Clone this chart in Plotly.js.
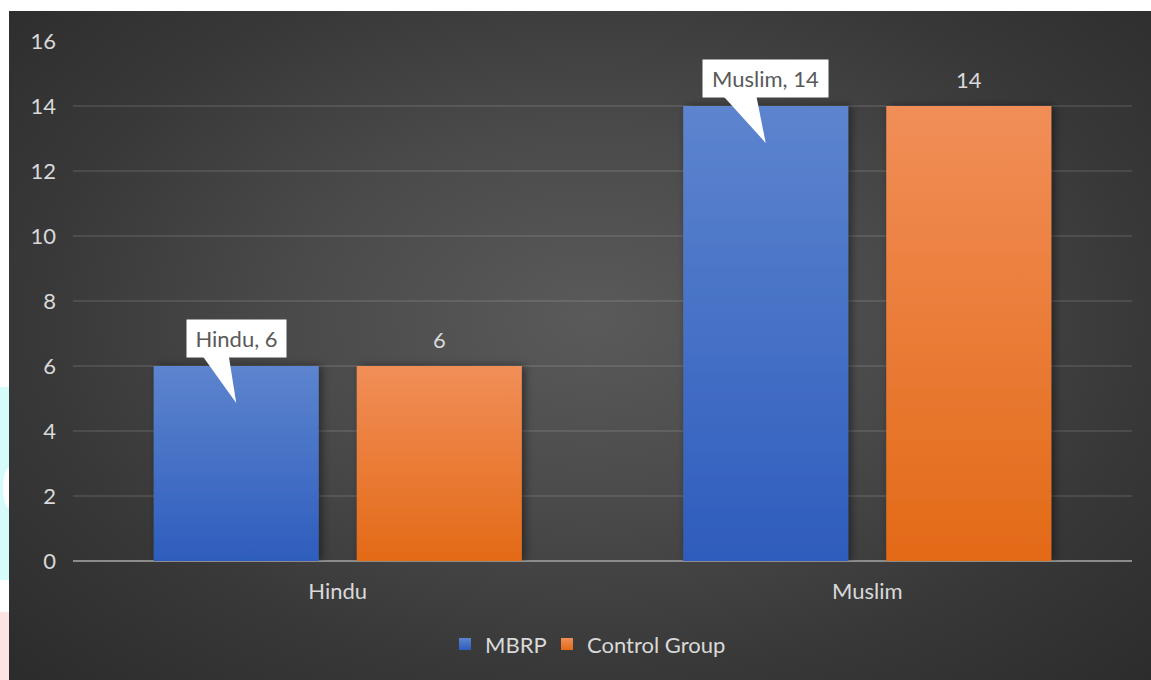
<!DOCTYPE html>
<html>
<head>
<meta charset="utf-8">
<script src="https://cdn.plot.ly/plotly-3.0.1.min.js"></script>
<style>
  html, body { margin: 0; padding: 0; background: #ffffff; width: 1151px; height: 680px; overflow: hidden; }
  #bg { position: absolute; left: 9px; top: 11px; width: 1142px; height: 669px;
        background: radial-gradient(ellipse 75% 82% at 51% 46%, #5a5a5a 0%, #4a4a4a 35%, #383838 65%, #292929 100%); }
  #cyan { position: absolute; left: 0; top: 387px; width: 9px; height: 193px; background: #d6fbfb; }
  #dot { position: absolute; left: 3px; top: 468px; width: 12px; height: 40px; border-radius: 50%; background: #ffffff; }
  #pink { position: absolute; left: 0; top: 612px; width: 9px; height: 68px; background: #fde3e3; }
  #chart { position: absolute; left: 0; top: 0; width: 1151px; height: 680px; }
</style>
</head>
<body>
<div id="cyan"></div>
<div id="dot"></div>
<div id="pink"></div>
<div id="bg"></div>
<div id="chart"></div>
<script>
// ---- data ----
const categories = ['Hindu', 'Muslim'];
const seriesNames = ['MBRP', 'Control Group'];
const mbrpValues = [6, 14];
const controlValues = [6, 14];
const yTickValues = [0, 2, 4, 6, 8, 10, 12, 14, 16];

// ---- style ----
const FONT = 'Lato, "Open Sans", sans-serif';
const TEXT = '#d9d9d9';
const FS = 22;
const BARGAP = 0.233;
const GROUPGAP = 0.187;
const slotOffset = (1 - BARGAP) / 4; // centre of each bar relative to category centre

const traces = [
  { type: 'bar', name: seriesNames[0], x: categories, y: mbrpValues,
    marker: { color: '#4472c4', line: { width: 0 } }, hoverinfo: 'skip' },
  { type: 'bar', name: seriesNames[1], x: categories, y: controlValues,
    marker: { color: '#ed7d31', line: { width: 0 } }, hoverinfo: 'skip' }
];

const annotations = [];
const shapes = [];
categories.forEach((cat, i) => {
  const label = cat + ', ' + mbrpValues[i];
  const boxW = 13 * label.length - 5;
  annotations.push({
    xref: 'x', yref: 'y', x: i - slotOffset, y: mbrpValues[i],
    text: label, showarrow: false, yanchor: 'middle', xanchor: 'center', yshift: 27.5,
    font: { family: FONT, size: FS, color: '#595959' },
    bgcolor: '#ffffff', borderpad: 6, width: boxW - 12, height: 25
  });
  shapes.push({
    type: 'path', xref: 'x', yref: 'y', xsizemode: 'pixel', ysizemode: 'pixel',
    xanchor: i - slotOffset, yanchor: mbrpValues[i],
    path: 'M' + (-0.34 * boxW) + ',10 L' + (-0.075 * boxW) + ',10 L0,-37 Z',
    fillcolor: '#ffffff', line: { width: 0 }, layer: 'above'
  });
  annotations.push({
    xref: 'x', yref: 'y', x: i + slotOffset, y: controlValues[i],
    text: String(controlValues[i]), showarrow: false, yanchor: 'middle', xanchor: 'center', yshift: 27,
    font: { family: FONT, size: FS, color: TEXT }
  });
});

const layout = {
  width: 1151, height: 680,
  paper_bgcolor: 'rgba(0,0,0,0)', plot_bgcolor: 'rgba(0,0,0,0)',
  margin: { l: 73, r: 19, t: 41, b: 119 },
  barmode: 'group', bargap: BARGAP, bargroupgap: GROUPGAP,
  font: { family: FONT, color: TEXT, size: FS },
  xaxis: { type: 'category', showgrid: false, showline: false, zeroline: false, ticks: '',
           tickfont: { family: FONT, size: FS, color: TEXT }, ticklabelstandoff: 15 },
  yaxis: { range: [0, 16], tickvals: yTickValues, showgrid: true, gridcolor: 'rgba(255,255,255,0.1)', gridwidth: 1.3,
           zeroline: true, zerolinecolor: '#8c8c8c', zerolinewidth: 2, showline: false, ticks: '',
           tickfont: { family: FONT, size: FS, color: TEXT }, ticklabelstandoff: 16 },
  showlegend: true,
  legend: { orientation: 'h', x: 0.3513, xanchor: 'left', y: -0.16, yanchor: 'middle',
            entrywidth: 57, entrywidthmode: 'pixels',
            font: { family: FONT, size: FS, color: TEXT }, bgcolor: 'rgba(0,0,0,0)', itemwidth: 30 },
  annotations: annotations,
  shapes: shapes
};

Plotly.newPlot('chart', traces, layout, { displayModeBar: false, staticPlot: true }).then(gd => {
  const svg = gd.querySelector('.main-svg');
  const ns = 'http://www.w3.org/2000/svg';
  let defs = svg.querySelector('defs');
  if (!defs) { defs = document.createElementNS(ns, 'defs'); svg.insertBefore(defs, svg.firstChild); }
  function grad(id, top, bottom) {
    const g = document.createElementNS(ns, 'linearGradient');
    g.setAttribute('id', id); g.setAttribute('x1', '0'); g.setAttribute('y1', '0');
    g.setAttribute('x2', '0'); g.setAttribute('y2', '1');
    [[0, top], [1, bottom]].forEach(([o, c]) => {
      const s = document.createElementNS(ns, 'stop');
      s.setAttribute('offset', o); s.setAttribute('stop-color', c); g.appendChild(s);
    });
    defs.appendChild(g);
  }
  grad('gBlue', '#5d84ce', '#2e5dbd');
  grad('gOrange', '#f18e58', '#e36a17');
  const f = document.createElementNS(ns, 'filter');
  f.setAttribute('id', 'barShadow'); f.setAttribute('x', '-20%'); f.setAttribute('y', '-5%');
  f.setAttribute('width', '140%'); f.setAttribute('height', '110%');
  const ds = document.createElementNS(ns, 'feDropShadow');
  ds.setAttribute('dx', '3'); ds.setAttribute('dy', '0'); ds.setAttribute('stdDeviation', '4');
  ds.setAttribute('flood-color', '#000'); ds.setAttribute('flood-opacity', '0.45');
  f.appendChild(ds); defs.appendChild(f);
  const ids = ['gBlue', 'gOrange'];
  gd.querySelectorAll('.barlayer .trace').forEach((t, k) => {
    t.querySelectorAll('path').forEach(p => {
      p.style.fill = 'url(#' + ids[k] + ')';
      p.setAttribute('filter', 'url(#barShadow)');
    });
  });
  gd.querySelectorAll('.legend .traces').forEach((t, k) => {
    t.querySelectorAll('.legendpoints path').forEach(p => { p.style.fill = 'url(#' + ids[k] + ')'; });
  });
  // let the last legend entry's text overflow its fixed entry width
  gd.querySelectorAll('.legend [clip-path]').forEach(el => el.removeAttribute('clip-path'));
});
</script>
</body>
</html>
